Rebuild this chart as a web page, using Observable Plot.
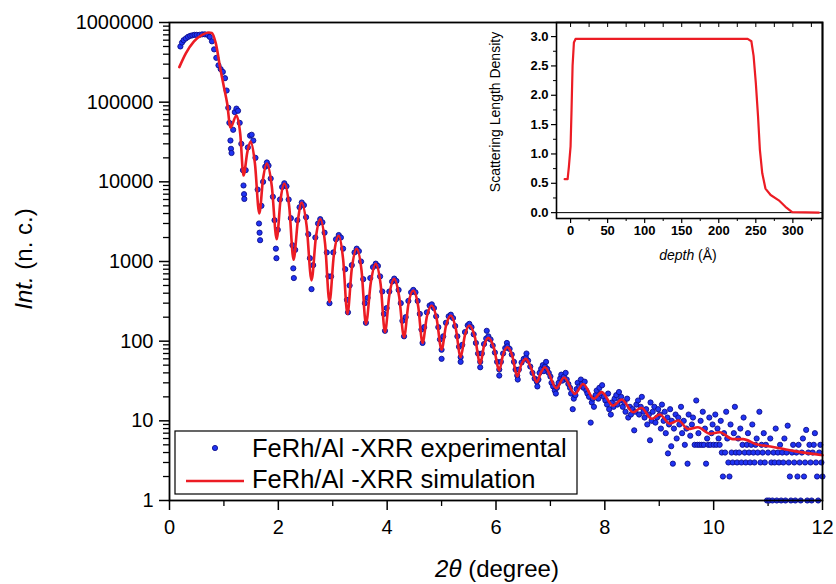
<!DOCTYPE html>
<html>
<head>
<meta charset="utf-8">
<script src="https://cdn.jsdelivr.net/npm/d3@7"></script>
<script src="https://cdn.jsdelivr.net/npm/@observablehq/plot@0.6"></script>
<style>
  html, body { margin: 0; padding: 0; background: #fff; }
  #wrap { position: relative; width: 836px; height: 584px; background: #fff; overflow: hidden; }
  #wrap svg { position: absolute; left: 0; top: 0; }
  #inset { pointer-events: none; }
</style>
</head>
<body>
<div id="wrap"></div>
<script>
// ---------------- data ----------------
// main axes ticks
const xMajor = [0, 2, 4, 6, 8, 10, 12];
const xMinor = [1, 3, 5, 7, 9, 11];
const yMajor = [1, 10, 100, 1000, 10000, 100000, 1000000];

// simulation curve (2theta, intensity)
const simPts = [
  [0.18, 275000], [0.30, 410000], [0.45, 580000], [0.60, 700000], [0.72, 750000], [0.78, 740000],
  [0.85, 550000], [0.94, 250000], [1.00, 155000], [1.06, 96000], [1.12, 48000], [1.23, 68000],
  [1.30, 40000], [1.36, 12000], [1.43, 23500], [1.49, 32000], [1.57, 17000], [1.65, 4000],
  [1.72, 11000], [1.79, 17000], [1.88, 8800], [1.97, 1900], [2.04, 5900], [2.11, 9500],
  [2.20, 4900], [2.28, 1050], [2.36, 3300], [2.43, 5500], [2.52, 2800], [2.61, 580],
  [2.69, 2000], [2.77, 3400], [2.86, 1650], [2.94, 310], [3.02, 1200], [3.11, 2100],
  [3.19, 1080], [3.27, 220], [3.35, 810], [3.44, 1440], [3.53, 760], [3.61, 165],
  [3.70, 550], [3.79, 935], [3.88, 515], [3.96, 130], [4.04, 380], [4.13, 606],
  [4.22, 363], [4.31, 112], [4.39, 290], [4.48, 432], [4.57, 275], [4.65, 95],
  [4.73, 204], [4.82, 280], [4.91, 190], [5.00, 78], [5.08, 155], [5.17, 210],
  [5.26, 145], [5.35, 63], [5.43, 120], [5.51, 157], [5.61, 114], [5.71, 52],
  [5.78, 87], [5.86, 110], [5.96, 83], [6.06, 43], [6.13, 68], [6.21, 84],
  [6.30, 65], [6.39, 36], [6.47, 52], [6.55, 60], [6.65, 45], [6.75, 30.5], [6.83, 41], [6.90, 47],
  [7.11, 25.7], [7.25, 35], [7.45, 21.8], [7.60, 29], [7.80, 18.9], [7.94, 22.9],
  [8.15, 15.5], [8.31, 18.5], [8.52, 12.8], [8.67, 14.6], [8.86, 10.6], [9.01, 12],
  [9.19, 9.2], [9.35, 10.1], [9.53, 7.9], [9.71, 8.3], [9.93, 6.9], [10.11, 7.2],
  [10.35, 5.9], [10.54, 5.9], [10.78, 5.1], [11.09, 4.7], [11.46, 4.2], [12.0, 3.7]
];

// experimental points: critical-angle region
const expLow = [
  [0.20, 500000], [0.23, 560000], [0.26, 600000], [0.30, 630000], [0.34, 660000], [0.38, 680000],
  [0.42, 690000], [0.46, 700000], [0.50, 700000], [0.55, 700000], [0.60, 710000], [0.65, 710000],
  [0.70, 700000], [0.74, 660000], [0.78, 580000], [0.82, 460000], [0.86, 360000], [0.90, 290000],
  [0.94, 260000], [0.98, 240000], [1.02, 200000], [1.05, 140000], [1.08, 85000], [1.10, 55000],
  [1.12, 33000], [1.13, 26000], [1.14, 23000], [1.17, 45000], [1.20, 75000], [1.23, 83000],
  [1.26, 78000], [1.29, 55000], [1.32, 30000], [1.35, 14000], [1.36, 9000], [1.37, 7000],
  [1.375, 6100], [1.40, 14000], [1.44, 27000], [1.48, 38000], [1.51, 39000], [1.54, 33000],
  [1.58, 20000], [1.62, 8000], [1.645, 3000], [1.655, 2300], [1.665, 1850], [1.69, 5000],
  [1.72, 10000], [1.76, 15500], [1.79, 17500], [1.82, 16000], [1.86, 11000], [1.90, 6500],
  [1.93, 3300], [1.955, 1450], [1.965, 1100], [1.99, 2500], [2.03, 6000], [2.07, 8600],
  [2.11, 9600], [2.15, 8800], [2.19, 6000], [2.23, 3500], [2.26, 1600], [2.275, 820],
  [2.285, 620], [2.31, 1400], [2.35, 3300], [2.39, 4800], [2.43, 5500], [2.47, 5100],
  [2.51, 3600], [2.55, 2200], [2.58, 1100], [2.61, 450], [2.64, 900], [2.68, 2000],
  [2.73, 3000], [2.77, 3400], [2.81, 3100], [2.85, 2300], [2.89, 1300], [2.92, 650],
  [2.94, 300], [2.97, 650]
];
// experimental points: fringes
const expMid = [
  [3.01, 1300], [3.06, 1900], [3.11, 2150], [3.15, 2000], [3.19, 1450], [3.23, 800],
  [3.26, 330], [3.28, 230], [3.31, 500], [3.35, 900], [3.40, 1300], [3.44, 1450],
  [3.48, 1350], [3.52, 1000], [3.56, 600], [3.59, 300], [3.61, 170], [3.64, 350],
  [3.69, 620], [3.74, 850], [3.79, 940], [3.83, 880], [3.87, 650], [3.91, 420],
  [3.94, 220], [3.96, 135], [3.99, 260], [4.04, 420], [4.09, 560], [4.13, 610],
  [4.17, 570], [4.21, 440], [4.25, 300], [4.28, 180], [4.31, 115], [4.34, 200],
  [4.39, 320], [4.44, 410], [4.48, 440], [4.52, 410], [4.56, 320], [4.60, 220],
  [4.63, 140], [4.65, 95], [4.68, 150], [4.73, 230], [4.78, 280], [4.82, 290],
  [4.86, 260], [4.90, 205], [4.94, 150], [4.97, 105], [5.00, 78], [5.00, 60], [5.03, 115],
  [5.08, 170], [5.13, 205], [5.17, 215], [5.21, 195], [5.25, 155], [5.29, 115],
  [5.32, 85], [5.35, 63], [5.35, 55], [5.38, 90], [5.43, 130], [5.48, 158], [5.51, 165],
  [5.55, 150], [5.59, 122], [5.63, 95], [5.67, 70], [5.71, 55], [5.71, 47], [5.74, 70],
  [5.78, 92], [5.82, 108], [5.83, 135], [5.86, 115], [5.90, 105], [5.94, 88], [5.98, 72],
  [6.02, 55], [6.06, 44], [6.06, 37], [6.09, 55], [6.13, 70], [6.17, 82], [6.20, 95], [6.21, 86],
  [6.25, 80], [6.29, 68], [6.33, 55], [6.36, 44], [6.39, 37], [6.40, 33], [6.42, 44],
  [6.47, 54], [6.51, 60], [6.55, 62], [6.56, 70], [6.59, 57], [6.63, 48], [6.67, 40],
  [6.71, 34], [6.75, 31], [6.76, 27]
];
// experimental points: noisy tail
const expTail = [
  [6.78, 33], [6.80, 40], [6.83, 45], [6.86, 50], [6.88, 42], [6.90, 48], [6.92, 55], [6.94, 45],
  [6.97, 40], [7.00, 36], [7.02, 30], [7.05, 27], [7.08, 24], [7.10, 22], [7.12, 26], [7.15, 30],
  [7.18, 34], [7.20, 38], [7.22, 32], [7.25, 36], [7.28, 40], [7.30, 33], [7.33, 29], [7.36, 26],
  [7.38, 22], [7.41, 14], [7.43, 19], [7.46, 21], [7.48, 25], [7.50, 30], [7.53, 27], [7.56, 33],
  [7.58, 29], [7.61, 26], [7.63, 31], [7.66, 24], [7.68, 22], [7.71, 20], [7.74, 9.5], [7.76, 17],
  [7.78, 19], [7.80, 15], [7.83, 21], [7.85, 24], [7.88, 19], [7.90, 26], [7.93, 22], [7.95, 28],
  [7.98, 20], [8.01, 18], [8.04, 16], [8.06, 22], [8.08, 14], [8.11, 12], [8.13, 17], [8.16, 15],
  [8.18, 19], [8.21, 21], [8.23, 16], [8.26, 23], [8.28, 18], [8.30, 20], [8.33, 15], [8.36, 17],
  [8.38, 13], [8.41, 19], [8.43, 11], [8.46, 15], [8.48, 12], [8.51, 14], [8.54, 7.6], [8.56, 13],
  [8.58, 16], [8.61, 18], [8.63, 12], [8.66, 15], [8.68, 20], [8.71, 13], [8.73, 11], [8.76, 14],
  [8.78, 9], [8.81, 12], [8.83, 5.7], [8.84, 17], [8.86, 10], [8.88, 13], [8.91, 15], [8.93, 9.5],
  [8.96, 11], [8.98, 14], [9.01, 12], [9.03, 8], [9.05, 16], [9.08, 10], [9.10, 13], [9.12, 7],
  [9.15, 11], [9.16, 3.9], [9.18, 9], [9.20, 14], [9.22, 4.8], [9.23, 10], [9.25, 2.9], [9.27, 8],
  [9.30, 12], [9.32, 6], [9.35, 11], [9.37, 9], [9.40, 15], [9.42, 7], [9.45, 10], [9.47, 5],
  [9.50, 8], [9.52, 2.9], [9.54, 12], [9.57, 6.5], [9.60, 9], [9.62, 11], [9.65, 5], [9.68, 18],
  [9.70, 5], [9.72, 7], [9.74, 5], [9.76, 10], [9.78, 5], [9.80, 13], [9.82, 5], [9.84, 8],
  [9.86, 2.9], [9.88, 6], [9.90, 5], [9.92, 11], [9.94, 5], [9.96, 7], [9.98, 9], [10.00, 5],
  [10.03, 12], [10.05, 5], [10.07, 8], [10.09, 6], [10.11, 5], [10.13, 10], [10.15, 4], [10.17, 2],
  [10.19, 7], [10.21, 4], [10.23, 13], [10.25, 6], [10.27, 3], [10.29, 2], [10.31, 9], [10.33, 4],
  [10.35, 3], [10.37, 7], [10.39, 15], [10.41, 4], [10.43, 3], [10.45, 6], [10.47, 4], [10.49, 8],
  [10.51, 3], [10.53, 5], [10.55, 11], [10.57, 4], [10.59, 3], [10.61, 5], [10.63, 7], [10.65, 4],
  [10.67, 3], [10.69, 5], [10.71, 9], [10.73, 4], [10.75, 3], [10.77, 5], [10.79, 6], [10.81, 4],
  [10.84, 13], [10.86, 3], [10.88, 5], [10.90, 4], [10.92, 7], [10.94, 3], [10.96, 5], [10.98, 1],
  [11.00, 4], [11.02, 1], [11.04, 6], [11.06, 3], [11.08, 1], [11.10, 4], [11.12, 3], [11.14, 8],
  [11.16, 1], [11.18, 4], [11.20, 3], [11.22, 5], [11.24, 1], [11.26, 4], [11.28, 3], [11.30, 6],
  [11.32, 1], [11.34, 4], [11.36, 8.7], [11.38, 3], [11.40, 2], [11.42, 1], [11.44, 4], [11.46, 5],
  [11.48, 3], [11.50, 1], [11.52, 4], [11.54, 2], [11.56, 5], [11.58, 3], [11.60, 1], [11.62, 4],
  [11.64, 6], [11.66, 2], [11.68, 3], [11.70, 7.7], [11.72, 1], [11.74, 4], [11.76, 5], [11.78, 3],
  [11.80, 1], [11.82, 4], [11.84, 5], [11.86, 7], [11.88, 3], [11.90, 2], [11.92, 1], [11.94, 4],
  [11.96, 5], [11.98, 3], [12.00, 2]
];

// inset: scattering length density profile (depth in Å)
const depth = [-8, -4, -2.3, 0, 1.3, 2.7, 4.5, 6.7, 239, 244, 247, 250, 253, 255.5, 258.7, 263, 270, 281, 290, 299, 335];
const sld   = [0.57, 0.57, 0.78, 1.13, 1.75, 2.5, 2.9, 2.96, 2.96, 2.92, 2.67, 2.21, 1.64, 1.07, 0.67, 0.41, 0.30, 0.21, 0.10, 0.01, 0.0];
const insetXTicks = [0, 50, 100, 150, 200, 250, 300];
const insetXMinor = [25, 75, 125, 175, 225, 275, 325];
const insetYTicks = [0, 0.5, 1.0, 1.5, 2.0, 2.5, 3.0];
const insetYMinor = [0.25, 0.75, 1.25, 1.75, 2.25, 2.75];

const legendLabels = ["FeRh/Al -XRR experimental", "FeRh/Al -XRR simulation"];

// ---------------- build tables ----------------
const sim = simPts.map(([x, y]) => ({x, y}));
const exp = [...expLow, ...expMid, ...expTail].map(([x, y]) => ({x, y}));
const prof = depth.map((d, i) => ({d, s: sld[i]}));
const yMinor = [];
for (let k = 0; k < 6; k++) for (let m = 2; m <= 9; m++) yMinor.push(m * Math.pow(10, k));

const RED = "#ec1c24";
const BLUE_FILL = "#1f33f2";
const BLUE_STROKE = "#0e0e8c";
const DOT_R = 2.6;
const FONT = "'Liberation Sans', Arial, Helvetica, sans-serif";

const main = Plot.plot({
  width: 836, height: 584,
  marginLeft: 169, marginRight: 14, marginTop: 22, marginBottom: 84,
  x: {domain: [0, 12]},
  y: {type: "log", domain: [1, 1e6]},
  style: {fontFamily: FONT, fontSize: "20px", color: "#000", background: "transparent", overflow: "visible"},
  marks: [
    Plot.axisY({ticks: yMajor, tickFormat: d3.format("d"), tickSize: 10, tickPadding: 6, label: null, strokeWidth: 1.5}),
    Plot.axisY({ticks: yMinor, tickFormat: () => "", tickSize: 6, label: null, strokeWidth: 1.3}),
    Plot.axisX({ticks: xMajor, tickSize: 10, tickPadding: 9, label: null, strokeWidth: 1.5}),
    Plot.axisX({ticks: xMinor, tickFormat: () => "", tickSize: 6, label: null, strokeWidth: 1.3}),
    Plot.dot(exp, {x: "x", y: "y", r: DOT_R, fill: BLUE_FILL, stroke: BLUE_STROKE, strokeWidth: 0.9}),
    Plot.line(sim, {x: "x", y: "y", stroke: RED, strokeWidth: 2.6, curve: "monotone-x"}),
    Plot.frame({stroke: "#000", strokeWidth: 1.8})
  ]
});

const inset = Plot.plot({
  width: 836, height: 584,
  marginLeft: 556, marginRight: 14, marginTop: 22, marginBottom: 366,
  x: {domain: [-19, 340]},
  y: {domain: [-0.1, 3.24]},
  style: {fontFamily: FONT, fontSize: "13px", fontWeight: "bold", color: "#000", background: "transparent", overflow: "visible"},
  marks: [
    Plot.ruleY([0], {stroke: "#000", strokeWidth: 1}),
    Plot.axisY({ticks: insetYTicks, tickFormat: d3.format(".1f"), tickSize: 5, tickPadding: 3, label: null, strokeWidth: 1.2}),
    Plot.axisY({ticks: insetYMinor, tickFormat: () => "", tickSize: 3, label: null}),
    Plot.axisX({ticks: insetXTicks, tickSize: 5, tickPadding: 2, label: null, strokeWidth: 1.2}),
    Plot.axisX({ticks: insetXMinor, tickFormat: () => "", tickSize: 3, label: null}),
    Plot.axisX({anchor: "top", ticks: [...insetXTicks, ...insetXMinor], tickFormat: () => "", tickSize: -4, label: null}),
    Plot.line(prof, {x: "d", y: "s", stroke: RED, strokeWidth: 2.2}),
    Plot.frame({stroke: "#000", strokeWidth: 1.6})
  ]
});
inset.id = "inset";

const wrap = document.getElementById("wrap");
wrap.appendChild(main);
wrap.appendChild(inset);

// ---------- extra text: axis titles, legend ----------
const ms = d3.select(main);
const yl = ms.append("text")
  .attr("transform", "translate(32,259) rotate(-90)")
  .attr("text-anchor", "middle")
  .style("font-family", FONT).style("font-size", "24px").attr("fill", "#000");
yl.append("tspan").style("font-style", "italic").text("Int.");
yl.append("tspan").text(" (n. c.)");

const xl = ms.append("text")
  .attr("x", 497).attr("y", 577)
  .attr("text-anchor", "middle")
  .style("font-family", FONT).style("font-size", "24px").attr("fill", "#000");
xl.append("tspan").style("font-style", "italic").text("2θ");
xl.append("tspan").text(" (degree)");

const lg = ms.append("g");
lg.append("rect").attr("x", 175).attr("y", 431).attr("width", 402).attr("height", 63)
  .attr("fill", "#fff").attr("stroke", "#000").attr("stroke-width", 1.2);
lg.append("circle").attr("cx", 215).attr("cy", 448).attr("r", DOT_R)
  .attr("fill", BLUE_FILL).attr("stroke", BLUE_STROKE).attr("stroke-width", 0.9);
lg.append("line").attr("x1", 186).attr("x2", 244).attr("y1", 481).attr("y2", 481)
  .attr("stroke", RED).attr("stroke-width", 2.6);
lg.append("text").attr("x", 252).attr("y", 457).attr("text-anchor", "start").text(legendLabels[0])
  .style("font-family", FONT).style("font-size", "25.5px").attr("fill", "#000");
lg.append("text").attr("x", 252).attr("y", 488).attr("text-anchor", "start").text(legendLabels[1])
  .style("font-family", FONT).style("font-size", "25.5px").attr("fill", "#000");

const is = d3.select(inset);
is.append("text")
  .attr("transform", "translate(500,112) rotate(-90)")
  .attr("text-anchor", "middle")
  .style("font-family", FONT).style("font-size", "14px").style("font-weight", "normal").attr("fill", "#000")
  .text("Scattering Length Density");
const dl = is.append("text")
  .attr("x", 688).attr("y", 260)
  .attr("text-anchor", "middle")
  .style("font-family", FONT).style("font-size", "14px").style("font-weight", "normal").attr("fill", "#000");
dl.append("tspan").style("font-style", "italic").text("depth");
dl.append("tspan").text(" (Å)");
</script>
</body>
</html>
